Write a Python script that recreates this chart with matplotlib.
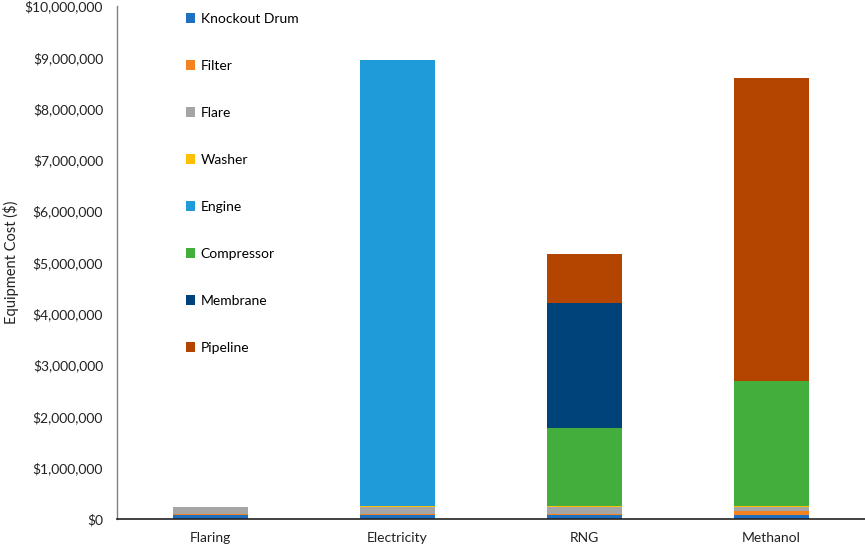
import numpy as np
import matplotlib
matplotlib.use("Agg")
import matplotlib.pyplot as plt
from matplotlib.ticker import FuncFormatter

plt.rcParams['font.family'] = ['Lato', 'DejaVu Sans']

# Data (equipment cost in $)
pathways = ['Flaring', 'Electricity', 'RNG', 'Methanol']
components = ['Knockout Drum', 'Filter', 'Flare', 'Washer', 'Engine',
              'Compressor', 'Membrane', 'Pipeline']
knockout_drum = [70000, 70000, 70000, 70000]
filter_cost = [30000, 30000, 30000, 90000]
flare = [140000, 140000, 140000, 80000]
washer = [0, 20000, 20000, 20000]
engine = [0, 8680000, 0, 0]
compressor = [0, 0, 1510000, 2430000]
membrane = [0, 0, 2440000, 0]
pipeline = [0, 0, 950000, 5900000]

colors = ['#1F70C1', '#F58220', '#A5A5A5', '#FFC000', '#1E9BD8',
          '#43AE3B', '#00427A', '#B34500']

series = [knockout_drum, filter_cost, flare, washer, engine,
          compressor, membrane, pipeline]

fig = plt.figure(figsize=(8.65, 5.47), dpi=100)
ax = fig.add_axes([117 / 865, 1 - 519 / 547, 1 - 117 / 865, (519 - 6) / 547])

x = np.arange(len(pathways))
bottom = np.zeros(len(pathways))
for name, vals, c in zip(components, series, colors):
    vals = np.array(vals, dtype=float)
    ax.bar(x, vals, 0.4, bottom=bottom, color=c, label=name)
    bottom += vals

ax.set_xlim(-0.5, 3.5)
ax.set_ylim(0, 10000000)
ax.set_yticks(np.arange(0, 10000001, 1000000))
ax.yaxis.set_major_formatter(FuncFormatter(lambda v, p: f'${v:,.0f}'))
ax.set_xticks(x)
ax.set_xticklabels(pathways)
ax.tick_params(axis='both', length=0, labelsize=10, colors='#222222')
ax.tick_params(axis='x', pad=9)
ax.tick_params(axis='y', pad=10)
ax.set_ylabel('Equipment Cost ($)', fontsize=10.5, color='#222222', labelpad=4)

for s in ['top', 'right']:
    ax.spines[s].set_visible(False)
ax.spines['left'].set_color('#808080')
ax.spines['bottom'].set_color('#222222')
ax.spines['left'].set_linewidth(1.0)
ax.spines['bottom'].set_linewidth(1.2)

ax.legend(loc='upper left', bbox_to_anchor=(180 / 865, 1 - 7 / 547),
          bbox_transform=fig.transFigure, frameon=False, fontsize=10,
          labelspacing=2.52, handlelength=0.7, handleheight=0.7,
          handletextpad=0.4, borderaxespad=0)

fig.savefig('out.png', dpi=100)
